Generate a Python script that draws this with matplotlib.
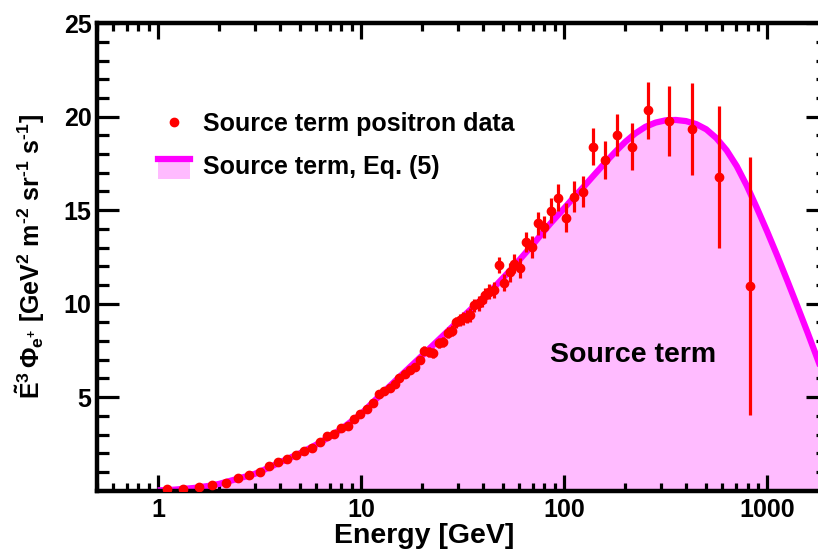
import matplotlib
matplotlib.use('Agg')
import matplotlib.pyplot as plt
from matplotlib.legend_handler import HandlerBase
from matplotlib.patches import Rectangle
from matplotlib.lines import Line2D
import numpy as np

plt.rcParams['font.family'] = 'Liberation Sans'
plt.rcParams['font.weight'] = 'bold'
plt.rcParams['mathtext.fontset'] = 'custom'
plt.rcParams['mathtext.rm'] = 'Liberation Sans:bold'
plt.rcParams['mathtext.bf'] = 'Liberation Sans:bold'
plt.rcParams['mathtext.it'] = 'Liberation Sans:bold:italic'

# source term positron data
energy = [1.10, 1.33, 1.59, 1.85, 2.15, 2.47, 2.81, 3.17, 3.53, 3.91, 4.33,
          4.77, 5.24, 5.72, 6.27, 6.80, 7.37, 7.97, 8.60, 9.27, 9.92, 10.67,
          11.4, 12.2, 12.95, 13.8, 14.6, 15.4, 16.4, 17.4, 18.4, 19.4, 20.4,
          21.7, 22.7, 24.3, 25.4, 26.9, 27.9, 29.4, 30.7, 31.9, 33.4, 34.4,
          36.0, 37.9, 39.4, 40.7, 42.4, 44.9, 47.6, 50.6, 53.8, 56.9, 60.7,
          65.0, 69.3, 74.0, 79.6, 86.1, 93.7, 102, 112, 124, 139, 158, 182,
          215, 260, 327, 426, 582, 827]
flux = [0.06, 0.10, 0.19, 0.31, 0.42, 0.67, 0.82, 1.00, 1.30, 1.52, 1.68,
        1.91, 2.12, 2.27, 2.58, 2.93, 3.02, 3.33, 3.47, 3.81, 4.11, 4.34,
        4.70, 5.14, 5.34, 5.46, 5.68, 6.04, 6.23, 6.43, 6.60, 7.00, 7.48,
        7.42, 7.37, 7.90, 7.96, 8.44, 8.56, 9.00, 9.10, 9.21, 9.30, 9.39,
        9.90, 10.01, 10.19, 10.45, 10.63, 10.74, 12.06, 11.12, 11.67, 12.13,
        11.92, 13.30, 13.02, 14.29, 14.10, 14.96, 15.66, 14.60, 15.72, 15.98,
        18.40, 17.67, 19.01, 18.40, 20.33, 19.78, 19.33, 16.78, 10.95]
flux_err = [0.02, 0.02, 0.03, 0.03, 0.04, 0.04, 0.05, 0.05, 0.05, 0.06, 0.06,
            0.07, 0.07, 0.08, 0.08, 0.09, 0.09, 0.10, 0.10, 0.11, 0.11, 0.12,
            0.13, 0.14, 0.15, 0.16, 0.17, 0.18, 0.19, 0.20, 0.21, 0.22, 0.24,
            0.25, 0.26, 0.27, 0.28, 0.29, 0.30, 0.31, 0.32, 0.33, 0.34, 0.35,
            0.36, 0.38, 0.39, 0.40, 0.41, 0.42, 0.45, 0.47, 0.49, 0.51, 0.53,
            0.55, 0.58, 0.61, 0.61, 0.67, 0.71, 0.77, 0.82, 0.83, 1.00, 1.00,
            1.13, 1.27, 1.54, 1.88, 2.45, 3.80, 6.90]

# source term, Eq. (5)
curve_e = [1.03, 1.2, 1.5, 1.8, 2.0, 2.5, 3.0, 3.5, 4.0, 5.0, 6.0, 7.0, 8.0,
           10, 12, 15, 19, 24, 30, 38, 45, 55, 70, 85,
           100, 112, 126, 141, 158, 178, 200, 224, 251, 282, 316, 355, 398,
           447, 501, 562, 631, 708, 794, 891, 1000, 1122, 1259, 1413, 1585,
           1778, 1995]
curve_y = [0.02, 0.05, 0.14, 0.26, 0.36, 0.65, 0.90, 1.22, 1.52, 2.00, 2.45,
           2.88, 3.30, 4.10, 4.95, 5.95, 7.00, 8.05, 9.05, 10.10, 10.85, 11.85,
           13.15, 14.25,
           15.10, 15.70, 16.30, 16.90, 17.50, 18.10, 18.65, 19.10, 19.45, 19.68,
           19.80, 19.82, 19.76, 19.60, 19.32, 18.85, 18.20, 17.35, 16.30, 15.10,
           13.85, 12.55, 11.20, 9.82, 8.42, 6.98, 5.50]

magenta = '#ff00ff'
pink = '#ffbbff'


class FillLineHandler(HandlerBase):
    def create_artists(self, legend, orig_handle, xdescent, ydescent,
                       width, height, fontsize, trans):
        box = Rectangle((-xdescent, -ydescent - 0.3 * height), width, 1.3 * height,
                        facecolor=pink, edgecolor='none', transform=trans)
        top = Line2D([-xdescent, width - xdescent], [height * 0.82, height * 0.82],
                     color=magenta, lw=4.5, transform=trans)
        return [box, top]


fig = plt.figure(figsize=(8.18, 5.5), dpi=100)
ax = fig.add_axes([0.1186, 0.108, 0.894, 0.85])

ax.fill_between(curve_e, 0, curve_y, color=pink, lw=0, zorder=1)
ax.plot(curve_e, curve_y, color=magenta, lw=4.5, zorder=2)
ax.errorbar(energy, flux, yerr=flux_err, fmt='o', color='red', ms=6,
            elinewidth=2.3, capsize=0, zorder=3)

ax.set_xscale('log')
ax.set_xlim(0.5, 2000)
ax.set_ylim(0, 25)
ax.set_yticks([5, 10, 15, 20, 25])
ax.set_yticks(np.arange(1, 25), minor=True)
ax.set_xticks([1, 10, 100, 1000])
ax.set_xticklabels(['1', '10', '100', '1000'])

ax.tick_params(which='both', direction='in', top=True, right=True, width=2.3,
               labelsize=18)
ax.tick_params(axis='y', which='major', length=16, pad=4)
ax.tick_params(axis='y', which='minor', length=8.5)
ax.tick_params(axis='x', which='major', length=11.5, pad=5)
ax.tick_params(axis='x', which='minor', length=6)
for s in ax.spines.values():
    s.set_linewidth(3.2)

ax.set_xlabel('Energy [GeV]', fontsize=20.5, fontweight='bold')
ax.xaxis.set_label_coords(0.447, -0.07)
ax.set_ylabel(r'$\tilde{\mathrm{E}}^{3}\,\Phi_{\mathrm{e}^{+}}$ [GeV$^{2}$ m$^{\text{-}2}$ sr$^{\text{-}1}$ s$^{\text{-}1}$]',
              fontsize=18, fontweight='bold')
ax.yaxis.set_label_coords(-0.068, 0.5)

ax.text(219, 7.25, 'Source term', fontsize=20.5, fontweight='bold',
        ha='center', va='center')

h1 = Line2D([], [], ls='none', marker='o', color='red', ms=6)
h2 = Rectangle((0, 0), 1, 1)
ax.legend([h1, h2], ['Source term positron data', 'Source term, Eq. (5)'],
          handler_map={Rectangle: FillLineHandler()},
          loc='upper left', bbox_to_anchor=(0.083, 0.81), frameon=False,
          fontsize=18, handlelength=1.28, handletextpad=0.55,
          labelspacing=0.75, borderpad=0, borderaxespad=0)

fig.savefig('out.png', dpi=100)
